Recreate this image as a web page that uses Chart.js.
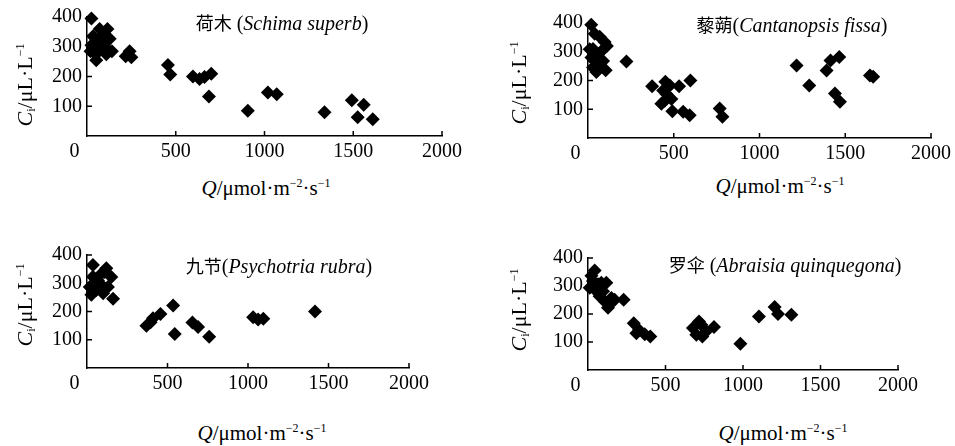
<!DOCTYPE html>
<html>
<head>
<meta charset="utf-8">
<script src="https://cdn.jsdelivr.net/npm/chart.js@4.4.1/dist/chart.umd.min.js"></script>
<style>
  body { margin: 0; background: #fff; }
  #page { position: relative; width: 955px; height: 446px; overflow: hidden; font-family: "Liberation Serif", serif; color: #000; }
  .panel { position: absolute; }
  .txt { position: absolute; white-space: nowrap; font-size: 20px; transform: translate(-50%, -50%); }
  .cjk { font-family: "Noto Sans CJK SC", sans-serif; font-size: 18px; }
  .ytitle { transform: translate(-50%, -50%) rotate(-90deg); font-size: 22px; }
  .xtitle { font-size: 21px; }
  sup { font-size: 12px; vertical-align: 8px; }
  sub { font-size: 12px; vertical-align: -3px; }
</style>
</head>
<body>
<div id="page">
  <div class="panel" style="left:0;top:0"><canvas id="c1" width="478" height="170"></canvas></div>
  <div class="panel" style="left:478px;top:0"><canvas id="c2" width="477" height="170"></canvas></div>
  <div class="panel" style="left:0;top:230px"><canvas id="c3" width="478" height="170"></canvas></div>
  <div class="panel" style="left:478px;top:230px"><canvas id="c4" width="477" height="170"></canvas></div>

  <div class="txt" style="left:282px;top:22px"><span class="cjk">荷木</span> (<i>Schima superb</i>)</div>
  <div class="txt" style="left:792px;top:24px"><span class="cjk">藜蒴</span>(<i>Cantanopsis fissa</i>)</div>
  <div class="txt" style="left:279px;top:265px"><span class="cjk">九节</span>(<i>Psychotria rubra</i>)</div>
  <div class="txt" style="left:785px;top:264px"><span class="cjk">罗伞</span> (<i>Abraisia quinquegona</i>)</div>

  <div class="txt ytitle" style="left:25px;top:85px"><i>C</i><sub>i</sub>/μL·L<sup>−1</sup></div>
  <div class="txt ytitle" style="left:519px;top:83px"><i>C</i><sub>i</sub>/μL·L<sup>−1</sup></div>
  <div class="txt ytitle" style="left:25px;top:305px"><i>C</i><sub>i</sub>/μL·L<sup>−1</sup></div>
  <div class="txt ytitle" style="left:519px;top:310px"><i>C</i><sub>i</sub>/μL·L<sup>−1</sup></div>

  <div class="txt xtitle" style="left:266px;top:188px"><i>Q</i>/μmol·m<sup>−2</sup>·s<sup>−1</sup></div>
  <div class="txt xtitle" style="left:780px;top:186px"><i>Q</i>/μmol·m<sup>−2</sup>·s<sup>−1</sup></div>
  <div class="txt xtitle" style="left:262px;top:433px"><i>Q</i>/μmol·m<sup>−2</sup>·s<sup>−1</sup></div>
  <div class="txt xtitle" style="left:783px;top:433px"><i>Q</i>/μmol·m<sup>−2</sup>·s<sup>−1</sup></div>
</div>

<script>
// axis ticks
const qTicks = [0, 500, 1000, 1500, 2000];
const ciTicks = [100, 200, 300, 400];

// 荷木 Schima superb
const schimaQ  = [25, 34, 71, 90, 128, 34, 71, 50, 25, 100, 109, 60, 140, 20, 52, 115,
                  240, 250, 218, 456, 469, 597, 634, 662, 700, 687, 906, 1019, 1069, 1338, 1492, 1559, 1525, 1610];
const schimaCi = [395, 335, 360, 337, 327, 300, 290, 275, 305, 300, 275, 320, 285, 285, 255, 360,
                  285, 265, 268, 239, 207, 200, 192, 198, 209, 133, 85, 146, 140, 80, 120, 105, 63, 56];

// 藜蒴 Cantanopsis fissa
const fissaQ  = [19, 39, 68, 97, 29, 10, 58, 78, 39, 29, 58, 103, 49, 88, 110, 20,
                 224, 374, 451, 477, 531, 597, 438, 457, 486, 447, 428, 492, 555, 593, 768, 784,
                 1216, 1290, 1391, 1414, 1465, 1440, 1469, 1663, 1644];
const fissaCi = [394, 363, 352, 334, 310, 309, 292, 302, 268, 245, 242, 236, 230, 268, 320, 280,
                 266, 180, 196, 183, 180, 200, 165, 153, 136, 130, 119, 93, 91, 79, 103, 74,
                 252, 183, 235, 270, 282, 155, 126, 213, 217];

// 九节 Psychotria rubra
const rubraQ  = [37, 120, 37, 68, 151, 17, 58, 27, 100, 130, 162, 89, 79, 110,
                 369, 395, 410, 456, 535, 545, 655, 690, 759, 1032, 1063, 1095, 1416];
const rubraCi = [365, 353, 323, 310, 322, 287, 276, 259, 265, 287, 245, 334, 300, 340,
                 150, 162, 176, 191, 221, 120, 161, 145, 111, 180, 172, 174, 200];

// 罗伞 Abraisia quinquegona
const abraQ  = [22, 43, 11, 54, 86, 118, 75, 108, 129, 151, 172, 65, 97, 32, 140,
                230, 295, 312, 329, 366, 402,
                677, 699, 731, 763, 716, 813, 738, 983, 1103, 1204, 1226, 1312];
const abraCi = [337, 355, 294, 281, 312, 312, 263, 245, 222, 257, 251, 306, 281, 318, 235,
                251, 167, 131, 143, 128, 120,
                150, 126, 162, 138, 173, 154, 120, 94, 191, 225, 200, 197];

const tickFont = { family: '"Liberation Serif", "Times New Roman", serif', size: 20 };

// the origin "0" sits a little left of the y axis, as in the original figure
const qLabel = v => (v === 0 ? '0     ' : String(v));

const inwardTicks = {
  id: 'inwardTicks',
  afterDraw(chart) {
    const { ctx, chartArea, scales } = chart;
    ctx.save();
    ctx.strokeStyle = '#000';
    ctx.lineWidth = 1.5;
    ctx.beginPath();
    scales.x.ticks.forEach(t => {
      if (t.value === 0) return;
      const px = scales.x.getPixelForValue(t.value);
      ctx.moveTo(px, chartArea.bottom);
      ctx.lineTo(px, chartArea.bottom - 5);
    });
    scales.y.ticks.forEach(t => {
      if (t.value === 0) return;
      const py = scales.y.getPixelForValue(t.value);
      ctx.moveTo(chartArea.left, py);
      ctx.lineTo(chartArea.left + 5, py);
    });
    ctx.stroke();
    ctx.restore();
  }
};

function makeChart(id, qs, cis, box) {
  const pts = qs.map((q, i) => ({ x: q, y: cis[i] }));
  return new Chart(document.getElementById(id), {
    type: 'scatter',
    data: {
      datasets: [{
        data: pts,
        pointStyle: 'rectRot',
        pointRadius: 7,
        pointBackgroundColor: '#000',
        pointBorderColor: '#000',
        pointBorderWidth: 0,
        clip: false
      }]
    },
    options: {
      responsive: false,
      animation: false,
      layout: { padding: { top: box.top, right: box.right, bottom: 0, left: 0 } },
      plugins: { legend: { display: false }, tooltip: { enabled: false } },
      scales: {
        x: {
          type: 'linear', min: 0, max: 2000,
          afterBuildTicks: s => { s.ticks = qTicks.map(v => ({ value: v })); },
          afterFit: s => { s.height = box.xh; },
          ticks: { color: '#000', padding: 4, font: tickFont, callback: qLabel },
          grid: { display: false, drawTicks: false },
          border: { display: true, color: '#000', width: 1.5 }
        },
        y: {
          type: 'linear', min: 0, max: 400,
          afterBuildTicks: s => { s.ticks = ciTicks.map(v => ({ value: v })); },
          afterFit: s => { s.width = box.yw; },
          ticks: { color: '#000', padding: 5, font: tickFont, callback: v => String(v) },
          grid: { display: false, drawTicks: false },
          border: { display: true, color: '#000', width: 1.5 }
        }
      }
    },
    plugins: [inwardTicks]
  });
}

makeChart('c1', schimaQ, schimaCi, { top: 17, right: 36, xh: 34, yw: 87 });
makeChart('c2', fissaQ, fissaCi, { top: 23, right: 24, xh: 32, yw: 110 });
makeChart('c3', rubraQ, rubraCi, { top: 25, right: 69, xh: 32, yw: 87 });
makeChart('c4', abraQ, abraCi, { top: 28, right: 57, xh: 30, yw: 110 });
</script>
</body>
</html>
